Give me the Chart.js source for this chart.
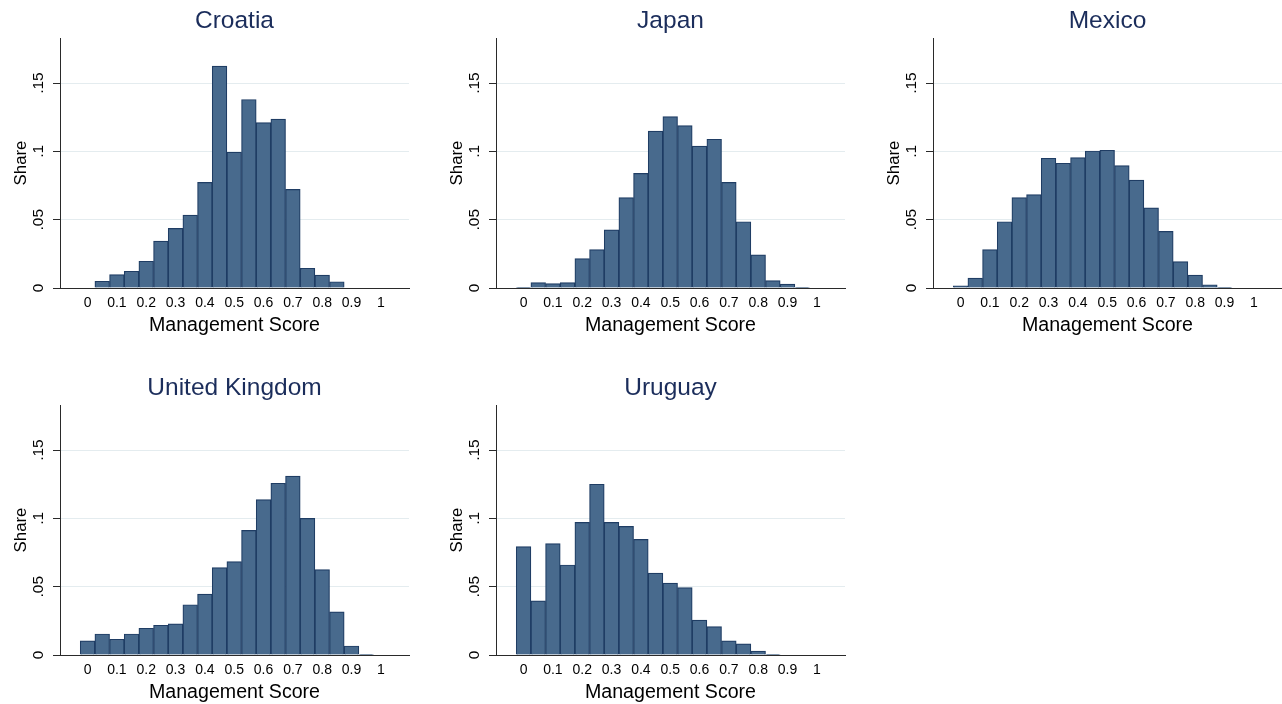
<!DOCTYPE html>
<html>
<head>
<meta charset="utf-8">
<script src="https://cdn.jsdelivr.net/npm/chart.js@4.4.1/dist/chart.umd.min.js"></script>
<style>
  html, body { margin: 0; padding: 0; background: #ffffff; overflow: hidden; width: 1282px; height: 704px; }
  canvas { position: absolute; }
</style>
</head>
<body>
<canvas id="p0" width="469" height="345" style="left:0px;top:0px"></canvas>
<canvas id="p1" width="469" height="345" style="left:436px;top:0px"></canvas>
<canvas id="p2" width="469" height="345" style="left:873px;top:0px"></canvas>
<canvas id="p3" width="469" height="345" style="left:0px;top:367px"></canvas>
<canvas id="p4" width="469" height="345" style="left:436px;top:367px"></canvas>
<script>
// Histogram bins: midpoints of 0.05-wide management-score bins
const binMidpoints = [0, 0.05, 0.1, 0.15, 0.2, 0.25, 0.3, 0.35, 0.4, 0.45,
                      0.5, 0.55, 0.6, 0.65, 0.7, 0.75, 0.8, 0.85, 0.9, 0.95];

// Share of firms in each bin (null = empty bin)
const croatia = [null, 0.0049, 0.0098, 0.0122, 0.0196, 0.0343, 0.0436, 0.0534, 0.0773, 0.1625,
                 0.0994, 0.1380, 0.1211, 0.1236, 0.0722, 0.0144, 0.0095, 0.0046, null, null];
const japan = [0.0005, 0.0039, 0.0032, 0.0039, 0.0215, 0.0281, 0.0426, 0.0661, 0.0839, 0.1148,
               0.1255, 0.1189, 0.1038, 0.1089, 0.0773, 0.0485, 0.0242, 0.0054, 0.0029, 0.0005];
const mexico = [0.0015, 0.0073, 0.0281, 0.0485, 0.0661, 0.0683, 0.0950, 0.0913, 0.0954, 0.1003,
                0.1008, 0.0896, 0.0790, 0.0587, 0.0414, 0.0193, 0.0095, 0.0024, 0.0005, null];
const unitedKingdom = [0.0103, 0.0154, 0.0115, 0.0154, 0.0196, 0.0218, 0.0228, 0.0368, 0.0446, 0.0640,
                       0.0684, 0.0912, 0.1137, 0.1257, 0.1309, 0.1000, 0.0625, 0.0316, 0.0066, 0.0005];
const uruguay = [0.0794, 0.0397, 0.0816, 0.0659, 0.0971, 0.1250, 0.0971, 0.0941, 0.0846, 0.0600,
                 0.0527, 0.0493, 0.0255, 0.0208, 0.0103, 0.0081, 0.0029, 0.0005, null, null];

const countryNames = ['Croatia', 'Japan', 'Mexico', 'United Kingdom', 'Uruguay'];
const countryShares = [croatia, japan, mexico, unitedKingdom, uruguay];

// Axis ticks
const xTickValues = [0, 0.1, 0.2, 0.3, 0.4, 0.5, 0.6, 0.7, 0.8, 0.9, 1];
const xTickLabels = ['0', '0.1', '0.2', '0.3', '0.4', '0.5', '0.6', '0.7', '0.8', '0.9', '1'];
const yTickValues = [0, 0.05, 0.1, 0.15];
const yTickLabels = ['0', '.05', '.1', '.15'];

const FONT = '"Liberation Sans", Arial, Helvetica, sans-serif';
const BAR_FILL = '#486a8d';
const BAR_EDGE = '#1f3d64';
const AXIS = '#2a2a2a';
const GRID = '#e4ecef';
const TITLE = '#1b2d5b';

function drawPanel(canvasId, name, shares) {
  const points = [];
  binMidpoints.forEach((x, i) => {
    if (shares[i] !== null) points.push({ x: x, y: shares[i] });
  });

  new Chart(document.getElementById(canvasId), {
    type: 'bar',
    data: {
      datasets: [{
        data: points,
        backgroundColor: BAR_FILL,
        borderColor: BAR_EDGE,
        borderWidth: 1.2,
        borderSkipped: 'start',
        barPercentage: 1,
        categoryPercentage: 1
      }]
    },
    options: {
      responsive: false,
      animation: false,
      devicePixelRatio: 1,
      layout: { padding: 0 },
      plugins: {
        legend: { display: false },
        tooltip: { enabled: false },
        title: {
          display: true,
          text: name,
          color: TITLE,
          font: { family: FONT, size: 24.5, weight: 'normal', lineHeight: 1.2 },
          padding: { top: 7, bottom: 1.6 }
        }
      },
      scales: {
        x: {
          type: 'linear',
          offset: false,
          min: -0.094,
          max: 1.096,
          afterBuildTicks: s => { s.ticks = xTickValues.map(v => ({ value: v })); },
          afterFit: s => { s.height = 57; },
          ticks: {
            autoSkip: false,
            maxRotation: 0,
            minRotation: 0,
            padding: 6.5,
            color: '#000',
            font: { family: FONT, size: 14 },
            callback: (v, i) => xTickLabels[i]
          },
          grid: { display: false, drawTicks: false },
          border: { display: true, color: AXIS, width: 1 },
          title: {
            display: true,
            text: 'Management Score',
            color: '#000',
            font: { family: FONT, size: 19.6, lineHeight: 1.2 },
            padding: { top: 0, bottom: 7.7 }
          }
        },
        y: {
          min: 0,
          max: 0.183,
          afterBuildTicks: s => { s.ticks = yTickValues.map(v => ({ value: v })); },
          afterFit: s => { s.width = 60; },
          ticks: {
            minRotation: 90,
            maxRotation: 90,
            crossAlign: 'center',
            padding: 3.8,
            color: '#000',
            font: { family: FONT, size: 15.5 },
            callback: (v, i) => yTickLabels[i]
          },
          grid: {
            color: c => (c.tick && c.tick.value === 0) ? 'rgba(0,0,0,0)' : GRID,
            tickColor: AXIS,
            tickLength: 7,
            lineWidth: 1
          },
          border: { display: true, color: AXIS, width: 1 },
          title: {
            display: true,
            text: 'Share',
            color: '#000',
            font: { family: FONT, size: 16.8, lineHeight: 1.2 },
            padding: { top: 10.9, bottom: 0 }
          }
        },
        // empty right-hand margin, same width as the left axis, so the panel title sits over the plot
        margin: {
          position: 'right',
          display: true,
          min: 0,
          max: 1,
          afterFit: s => { s.width = 60; },
          ticks: { display: false },
          grid: { display: false, drawTicks: false },
          border: { display: false }
        }
      }
    }
  });
}

countryNames.forEach((name, i) => drawPanel('p' + i, name, countryShares[i]));
</script>
</body>
</html>
